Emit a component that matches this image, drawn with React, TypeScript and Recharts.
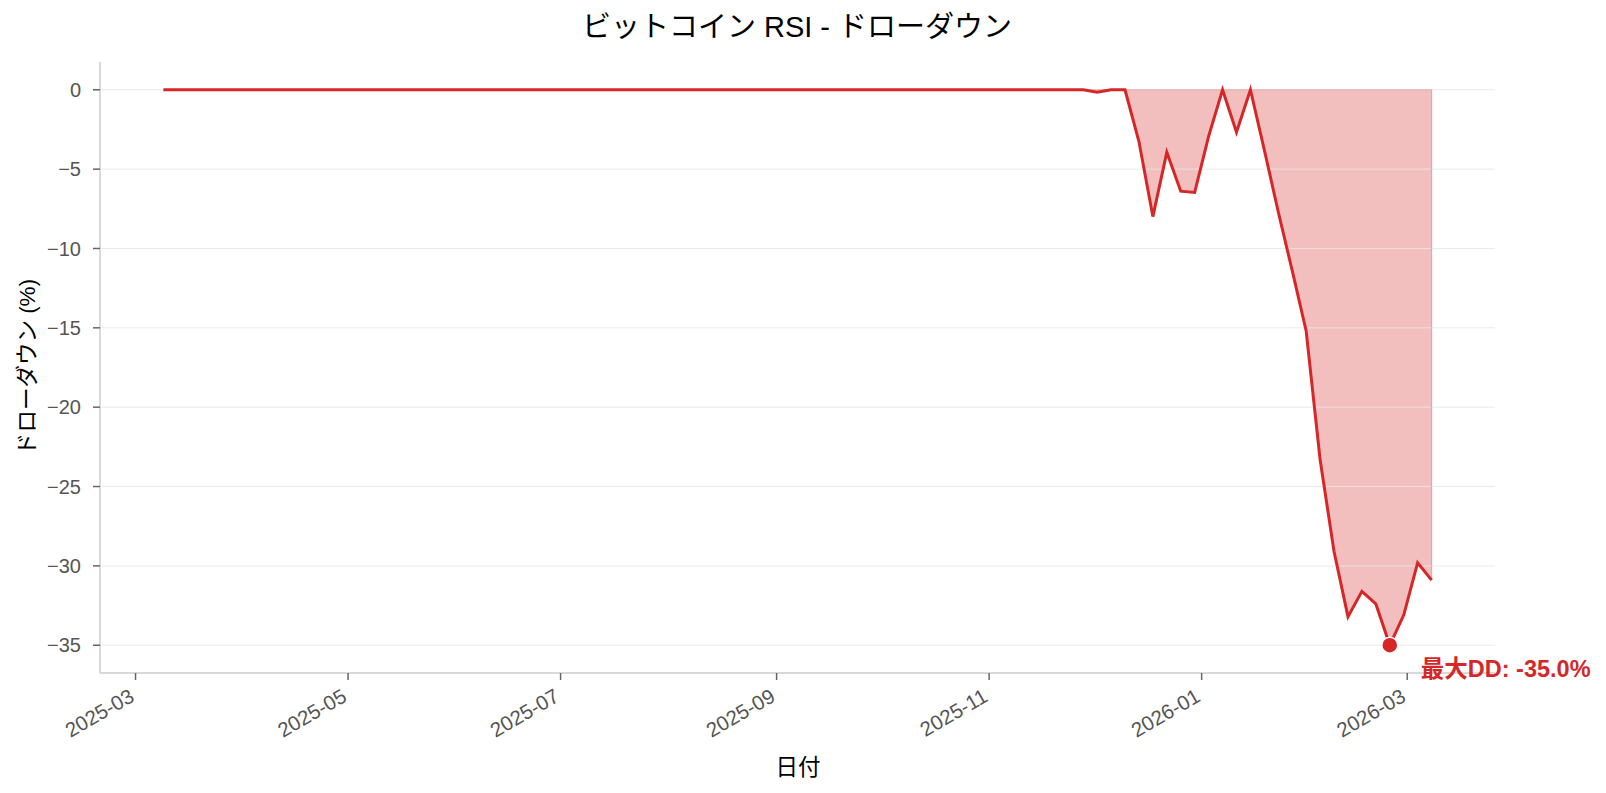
import React from 'react';
import {
    ComposedChart, Area, Line, XAxis, YAxis, CartesianGrid, ReferenceLine, ReferenceDot,
} from 'recharts';

// drawdown samples (the long flat stretch before late November stays at 0)
const dates = [
    '2025-03-09', '2025-11-28', '2025-12-02', '2025-12-06', '2025-12-10', '2025-12-14',
    '2025-12-18', '2025-12-22', '2025-12-26', '2025-12-30', '2026-01-03', '2026-01-07',
    '2026-01-11', '2026-01-15', '2026-01-19', '2026-01-23', '2026-01-27', '2026-01-31',
    '2026-02-04', '2026-02-08', '2026-02-12', '2026-02-16', '2026-02-20', '2026-02-24',
    '2026-02-28', '2026-03-04', '2026-03-08',
];
const drawdown = [
    0, 0, -0.15, 0, 0, -3.26,
    -7.99, -3.93, -6.39, -6.47, -2.94, 0,
    -2.67, 0, -3.8, -7.7, -11.4, -15.2,
    -23.3, -29.1, -33.2, -31.6, -32.4, -35.0,
    -33.1, -29.8, -30.9,
];
const xTickLabels = ['2025-03', '2025-05', '2025-07', '2025-09', '2025-11', '2026-01', '2026-03'];
const yTicks = [0, -5, -10, -15, -20, -25, -30, -35];

const RED = '#d62728';
const FONT = '"Liberation Sans", "Noto Sans CJK JP", sans-serif';

const data = dates.map((d, i) => ({ t: Date.parse(d), dd: drawdown[i] }));
const tMin = data[0].t;
const tMax = data[data.length - 1].t;
const tPad = (tMax - tMin) * 0.05;
const ddMin = Math.min(...drawdown);
const ddMax = Math.max(...drawdown);
const yPad = (ddMax - ddMin) * 0.05;
const worst = data.find(p => p.dd === ddMin)!;
const last = data[data.length - 1];
const xTicks = xTickLabels.map(l => Date.parse(l + '-01'));

const fmtY = (v: number) => (v < 0 ? '\u2212' + Math.abs(v) : String(v));
const fmtX = (t: number) => {
    const d = new Date(t);
    return `${d.getUTCFullYear()}-${String(d.getUTCMonth() + 1).padStart(2, '0')}`;
};

const XTick = (props: any) => {
    const { x, y, payload } = props;
    return (
        <g transform={`translate(${x - 10},${y})`}>
            <text x={0} y={20} textAnchor="end" transform="rotate(-30)" fill="#555" fontSize={20.5} fontFamily={FONT}>
                {fmtX(payload.value)}
            </text>
        </g>
    );
};

const MaxLabel = (props: any) => {
    const { viewBox } = props;
    const cx = viewBox.x + viewBox.width / 2;
    const cy = viewBox.y + viewBox.height / 2;
    return (
        <text x={cx + 31} y={cy + 24} dominantBaseline="central" fill={RED} fontSize={23.5} fontWeight="bold" fontFamily={FONT}>
            {`最大DD: ${ddMin.toFixed(1)}%`}
        </text>
    );
};

const W = 1590;
const H = 777;

const App: React.FC = () => {
    return (
        <div style={{ position: 'relative', width: W, height: H, fontFamily: FONT }}>
            <div style={{ position: 'absolute', left: 789, top: 16, transform: 'translate(-50%, -50%)', fontSize: 29, color: '#000', whiteSpace: 'nowrap' }}>
                ビットコイン RSI - ドローダウン
            </div>
            <div style={{ position: 'absolute', left: 17, top: 359, transform: 'translate(-50%, -50%) rotate(-90deg)', fontSize: 22.5, color: '#000', whiteSpace: 'nowrap' }}>
                ドローダウン (%)
            </div>
            <div style={{ position: 'absolute', left: 790, top: 757, transform: 'translate(-50%, -50%)', fontSize: 22.5, color: '#000', whiteSpace: 'nowrap' }}>
                日付
            </div>
            <ComposedChart width={W} height={H} data={data} margin={{ top: 54, right: 103, bottom: 32, left: 12 }}>
                <CartesianGrid vertical={false} horizontal={false} />
                <XAxis
                    dataKey="t"
                    type="number"
                    scale="time"
                    domain={[tMin - tPad, tMax + tPad]}
                    ticks={xTicks}
                    tick={<XTick />}
                    height={80}
                    tickSize={7}
                    tickMargin={3}
                    stroke="#cccccc"
                    strokeWidth={1.5}
                    tickLine={{ stroke: '#666', strokeWidth: 1.5 }}
                    allowDataOverflow
                />
                <YAxis
                    type="number"
                    domain={[ddMin - yPad, ddMax + yPad]}
                    ticks={yTicks}
                    tickFormatter={fmtY}
                    width={80}
                    tickSize={7}
                    tickMargin={12}
                    stroke="#cccccc"
                    strokeWidth={1.5}
                    tickLine={{ stroke: '#666', strokeWidth: 1.5 }}
                    tick={{ fill: '#555', fontSize: 20, fontFamily: FONT }}
                    allowDataOverflow
                />
                <Area
                    type="linear"
                    dataKey="dd"
                    baseValue={0}
                    fill={RED}
                    fillOpacity={0.3}
                    stroke="none"
                    isAnimationActive={false}
                />
                {yTicks.map(v => (
                    <ReferenceLine key={v} y={v} stroke="#e6e6e6" strokeWidth={1} strokeOpacity={0.85} />
                ))}
                <ReferenceLine
                    segment={[{ x: tMin, y: 0 }, { x: tMax, y: 0 }]}
                    stroke={RED}
                    strokeOpacity={0.3}
                    strokeWidth={1.2}
                />
                <ReferenceLine
                    segment={[{ x: tMax, y: 0 }, { x: tMax, y: last.dd }]}
                    stroke={RED}
                    strokeOpacity={0.3}
                    strokeWidth={1.2}
                />
                <Line
                    type="linear"
                    dataKey="dd"
                    stroke={RED}
                    strokeWidth={3}
                    dot={false}
                    activeDot={false}
                    isAnimationActive={false}
                />
                <ReferenceDot
                    x={worst.t}
                    y={worst.dd}
                    r={8}
                    fill={RED}
                    stroke="#fff"
                    strokeWidth={1.5}
                    label={<MaxLabel />}
                />
            </ComposedChart>
        </div>
    );
};

export default App;
